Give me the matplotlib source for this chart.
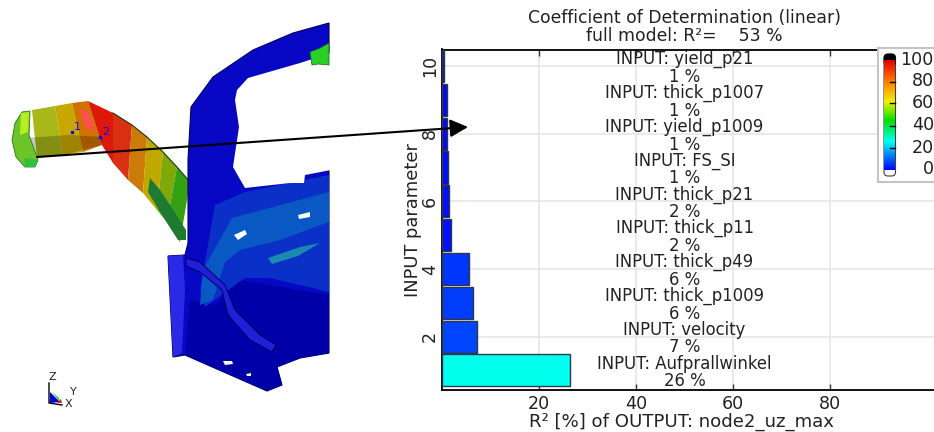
import matplotlib
matplotlib.use('Agg')
import matplotlib.pyplot as plt
import numpy as np
from matplotlib.colors import LinearSegmentedColormap
from matplotlib.patches import FancyArrowPatch, FancyBboxPatch, Polygon, Rectangle

W, H = 934, 432

# chart data
positions = [1, 2, 3, 4, 5, 6, 7, 8, 9, 10]
r2_values = [26.5, 7.4, 6.4, 5.6, 1.95, 1.6, 1.4, 1.07, 1.07, 0.6]
input_names = ['Aufprallwinkel', 'velocity', 'thick_p1009', 'thick_p49', 'thick_p11',
               'thick_p21', 'FS_SI', 'yield_p1009', 'thick_p1007', 'yield_p21']
r2_labels = [26, 7, 6, 6, 2, 2, 1, 1, 1, 1]
x_ticks = [20, 40, 60, 80]
y_ticks = [2, 4, 6, 8, 10]
cbar_labels = [100, 80, 60, 40, 20, 0]
cbar_label_y = [60, 81.5, 103, 125.5, 148, 169]

# crash model sketch, outlines in pixels
body = [(191, 107), (213, 77), (253, 50), (293, 33), (329, 23), (329, 353), (300, 358), (277, 367),
        (282, 385), (267, 391), (185, 355), (173, 357), (168, 256), (185, 255), (188, 243), (188, 160)]
window = [(237, 90), (248, 78), (300, 63), (331, 53), (331, 170), (305, 175), (304, 183), (290, 183),
          (245, 188), (233, 167), (239, 127), (235, 100)]
lower_dark = [(190, 300), (215, 305), (240, 280), (329, 295), (329, 353), (300, 358), (277, 367),
              (282, 385), (267, 391), (185, 355)]
panel_mid = [(215, 205), (245, 192), (329, 175), (329, 292), (300, 285), (270, 278), (245, 278),
             (228, 290), (205, 307), (200, 290)]
panel_light = [(232, 218), (329, 192), (329, 222), (280, 240), (240, 250), (225, 262), (213, 300),
               (200, 305), (203, 270)]
teal_patch = [(268, 258), (300, 247), (320, 243), (298, 256), (272, 264)]
strip = [(168, 256), (183, 255), (185, 290), (182, 353), (173, 357)]
beam = [(186, 258), (200, 262), (225, 285), (235, 310), (260, 335), (276, 345), (272, 352), (250, 340),
        (228, 315), (222, 290), (200, 272), (186, 266)]
holes = [[(234, 235), (245, 230), (247, 234), (238, 240)], [(298, 215), (310, 212), (310, 217), (299, 219)],
         [(223, 361), (232, 361), (233, 364), (225, 365)], [(246, 374), (251, 373), (251, 376), (247, 376)]]
green_piece = [(310, 52), (315, 50), (320, 48), (329, 43), (329, 65), (318, 64), (312, 65)]
tube_top = [(32, 110), (55, 106), (72, 103), (88, 101), (113, 113), (132, 125), (147, 137),
            (163, 152), (177, 167), (190, 182)]
tube_bot = [(37, 158), (63, 155), (83, 152), (102, 145), (113, 163), (128, 180), (143, 193),
            (157, 210), (167, 222), (180, 242)]
tube_colors = ['#a8b818', '#c8a800', '#cf7200', '#dc1808', '#d83010', '#cc7a08', '#bfa800',
               '#7fa808', '#34a014']
crash_box = [(12, 140), (15, 123), (22, 112), (30, 111), (29, 135), (38, 160), (35, 167), (25, 167), (16, 157)]
box_bright = [(21, 113), (29, 112), (28, 132), (20, 135)]
box_low = [(24, 158), (38, 160), (35, 167), (25, 167)]
hot_spot = [(80, 108), (88, 112), (94, 125), (92, 133), (84, 125)]
fold_shadow = [(25, 138), (70, 135), (102, 137), (102, 145), (63, 155), (37, 158)]
rib = [(150, 178), (160, 190), (170, 205), (186, 230), (186, 240), (178, 240), (160, 212), (148, 192)]

cmap = LinearSegmentedColormap.from_list('fringe', [(0.0, '#0000ff'), (0.26, '#00fff0'), (0.45, '#00e000'),
                                                    (0.62, '#f0f000'), (0.8, '#ff8000'), (1.0, '#e00000')])

fig = plt.figure(figsize=(W / 100, H / 100), dpi=100)
plt.rc('font', family='DejaVu Sans')
text_col = '#222222'
fs = 11.9
fs_big = 12.9

# main bars
x0 = 441.5
px_per_unit = 4.86
xmax = 102
ax = fig.add_axes([x0 / W, (H - 390) / H, xmax * px_per_unit / W, (390 - 49.5) / H])
ax.barh(positions, r2_values, height=0.95, color=cmap(np.array(r2_values) / 100),
        edgecolor='#303848', linewidth=1, zorder=3)
ax.set_xlim(0, xmax)
ax.set_ylim(0.42, 10.49)
ax.set_xticks(x_ticks)
ax.set_yticks(y_ticks)
ax.grid(True, color='#e6e6e6', linewidth=1.2, zorder=0)
ax.set_axisbelow(True)
ax.tick_params(axis='x', direction='in', top=True, length=4, width=1, color='#333333',
               labelsize=fs_big - 0.3, labelcolor=text_col, pad=3.5)
ax.tick_params(axis='y', length=0, labelsize=fs_big - 0.3, labelcolor=text_col, pad=2)
for lab in ax.get_yticklabels():
    lab.set_rotation(90)
    lab.set_va('center')
for name in ['top', 'bottom', 'left']:
    ax.spines[name].set_linewidth(1.3)
ax.spines['right'].set_visible(False)
ax.set_xlabel('R² [%] of OUTPUT: node2_uz_max', fontsize=13.1, color=text_col, x=49.4 / xmax, labelpad=0)
ax.set_ylabel('INPUT parameter', fontsize=fs_big, color=text_col, labelpad=-1)
ax.set_title('Coefficient of Determination (linear)\nfull model: R²=    53 %', fontsize=fs_big - 0.5,
             color=text_col, x=50 / xmax, pad=6, linespacing=0.98)
for p, name, val in zip(positions, input_names, r2_labels):
    ax.text(50, p - 0.06, 'INPUT: %s\n%d %%' % (name, val), ha='center', va='center', fontsize=fs,
            color=text_col, linespacing=0.98, zorder=4)

# overlay in pixel coordinates for the sketch, legend box and arrow
ov = fig.add_axes([0, 0, 1, 1], facecolor='none')
ov.set_xlim(0, W)
ov.set_ylim(H, 0)
ov.axis('off')


def poly(pts, color, z=2, edge='none', lw=0, alpha=None):
    ov.add_patch(Polygon(pts, closed=True, facecolor=color, edgecolor=edge, linewidth=lw, zorder=z, alpha=alpha))


poly(crash_box, '#6cc428', z=3, edge='#2a7a10', lw=0.6)
poly(box_bright, '#b8ee20', z=3.1)
poly(box_low, '#30c040', z=3.1)
for i, col in enumerate(tube_colors):
    poly([tube_top[i], tube_top[i + 1], tube_bot[i + 1], tube_bot[i]], col, z=2)
poly(fold_shadow, 'black', z=2.1, alpha=0.22)
poly(rib, '#1e7a30', z=2.2)
poly(hot_spot, '#ff5050', z=2.3)
ov.plot([p[0] for p in tube_top[4:]], [p[1] for p in tube_top[4:]], color='#1a3a10', lw=0.8, zorder=2.4)
poly(body, '#0808c4', z=4, edge='#00005a', lw=0.8)
poly(lower_dark, '#0000a8', z=4.05)
poly(panel_mid, '#0a30c8', z=4.1)
poly(panel_light, '#0a58c4', z=4.2)
poly(teal_patch, '#1a8ab0', z=4.3)
poly(strip, '#2a2ae6', z=4.4)
poly(beam, '#2020d8', z=4.5, edge='#00005a', lw=0.7)
poly(window, 'white', z=4.6)
for hole in holes:
    poly(hole, 'white', z=4.7)
poly(green_piece, '#28d028', z=4.8, edge='#106010', lw=0.5)

ov.plot([72, 100], [132, 137], ls='none', marker='s', ms=2, color='#1010e0', zorder=5)
ov.text(77, 127, '1', color='#1010e0', fontsize=8, ha='center', va='center', zorder=5)
ov.text(106, 132, '2', color='#1010e0', fontsize=8, ha='center', va='center', zorder=5)

# coordinate triad
poly([(50, 392), (50, 403), (60, 402)], '#0000d0', z=5)
poly([(52, 392), (60, 402), (59, 398)], '#20d020', z=5)
poly([(57, 403), (61, 399), (62, 403)], '#e02020', z=5)
ov.plot([49, 49, 62], [383, 403, 405], color='black', lw=1, zorder=5)
ov.text(52, 377, 'Z', fontsize=8, color=text_col, ha='center', va='center', zorder=5)
ov.text(73, 392, 'Y', fontsize=8, color=text_col, ha='center', va='center', zorder=5)
ov.text(68, 404, 'X', fontsize=8, color=text_col, ha='center', va='center', zorder=5)

# colour legend
ov.add_patch(Rectangle((877.5, 48), 70, 133.5, facecolor='white', edgecolor='#c4c4c4', linewidth=1.5, zorder=6))
ov.add_patch(FancyBboxPatch((886, 56), 7.5, 118, boxstyle='round,pad=2,rounding_size=4',
                            facecolor='white', edgecolor='#404040', linewidth=0.8, zorder=6.1))
ov.add_patch(FancyBboxPatch((886, 56), 7.5, 8, boxstyle='round,pad=2,rounding_size=4',
                            facecolor='black', edgecolor='black', linewidth=0.5, zorder=6.2))
grad = np.linspace(1, 0, 256).reshape(-1, 1)
ov.imshow(grad, cmap=cmap, extent=(884, 895, 170, 60), aspect='auto', zorder=6.3, vmin=0, vmax=1)
ov.set_xlim(0, W)
ov.set_ylim(H, 0)
for v, y in zip(cbar_labels, cbar_label_y):
    ov.text(934, y, str(v), ha='right', va='center', fontsize=fs_big - 0.3, color=text_col, zorder=7)
for y in cbar_label_y[1:5]:
    ov.plot([890, 895], [y, y], color='black', lw=1, zorder=6.5)

# arrow over both parts
ov.add_patch(FancyArrowPatch((37, 157), (468, 127), arrowstyle='-|>,head_length=10.8,head_width=5.4',
                             mutation_scale=1, color='black', lw=1.5, shrinkA=0, shrinkB=0, zorder=8))

plt.savefig('out.png', dpi=100)
